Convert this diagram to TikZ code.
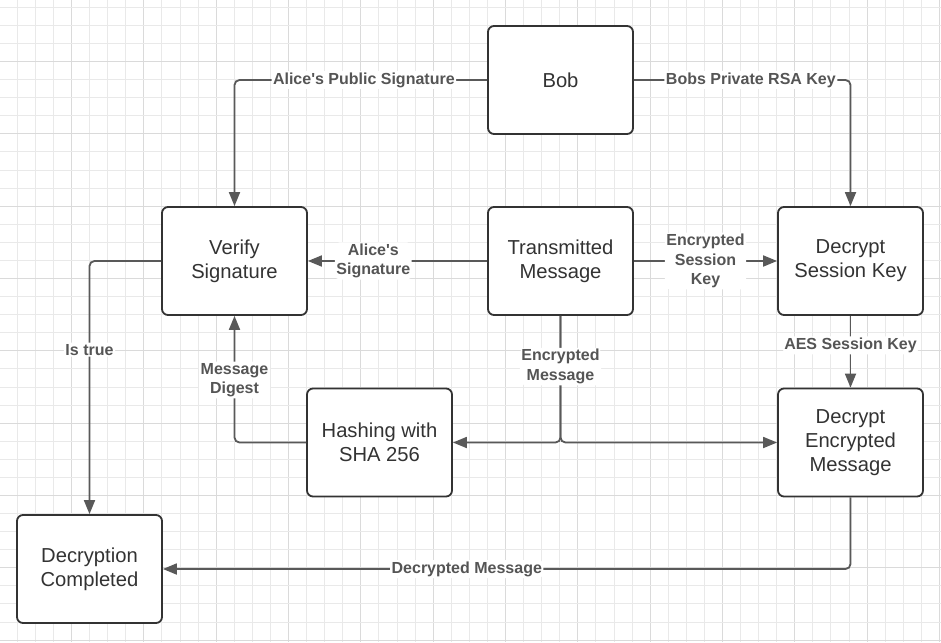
\documentclass[tikz,border=0pt]{standalone}
\usepackage{fontspec}
\setmainfont{Liberation Sans}[Ligatures=TeXOff]
\usetikzlibrary{arrows.meta}
\definecolor{boxc}{HTML}{333333}
\definecolor{linec}{HTML}{595959}
\definecolor{lblc}{HTML}{555555}
\definecolor{gridminor}{HTML}{E9E9E9}
\definecolor{gridmajor}{HTML}{DADADA}
\begin{document}
\begin{tikzpicture}[x=1pt,y=-1pt,
 box/.style={draw=boxc, line width=1.8pt, rounded corners=6pt, fill=white,
   minimum width=145pt, minimum height=108pt, align=center, text=boxc,
   font=\fontsize{20.2}{24}\selectfont, inner sep=0pt},
 lbl/.style={fill=white, text=lblc, font=\bfseries\fontsize{16}{19.5}\selectfont,
   align=center, inner sep=1.5pt},
 conn/.style={draw=linec, line width=1.8pt, rounded corners=5pt,
   -{Triangle[length=14pt,width=11pt]}},
]
\useasboundingbox (0,0) rectangle (941,642);
\fill[white] (0,0) rectangle (941,642);
% grid
\foreach \i in {0,...,52} {
  \pgfmathsetmacro{\gx}{-0.78+18.08*\i}
  \pgfmathtruncatemacro{\m}{mod(\i,4)}
  \ifnum\m=0\relax
    \draw[gridmajor, line width=1pt] (\gx,0) -- (\gx,642);
  \else
    \draw[gridminor, line width=0.9pt] (\gx,0) -- (\gx,642);
  \fi
}
\foreach \j in {0,...,35} {
  \pgfmathsetmacro{\gy}{7.3+18.08*\j}
  \pgfmathtruncatemacro{\m}{mod(\j,4)}
  \ifnum\m=3\relax
    \draw[gridmajor, line width=1pt] (0,\gy) -- (941,\gy);
  \else
    \draw[gridminor, line width=0.9pt] (0,\gy) -- (941,\gy);
  \fi
}
% boxes
\node[box] (bob) at (560.5,80) {Bob};
\node[box] (vs)  at (234.5,261) {Verify\\Signature};
\node[box] (tm)  at (560.5,261) {Transmitted\\Message};
\node[box] (dsk) at (850.5,261) {Decrypt\\Session Key};
\node[box] (hs)  at (379.5,442.5) {Hashing with\\SHA 256};
\node[box] (dem) at (850.5,442.5) {Decrypt\\Encrypted\\Message};
\node[box] (dc)  at (89.5,569) {Decryption\\Completed};
% connectors
\draw[conn] (bob.west) -| node[lbl, pos=0.244] {Alice's Public Signature} (vs.north);
\draw[conn] (bob.east) -| node[lbl, pos=0.27] {Bobs Private RSA Key} (dsk.north);
\draw[conn] (tm.west) -- node[lbl, pos=0.635] {Alice's\\Signature} (vs.east);
\draw[conn] (tm.east) -- node[lbl, pos=0.5] {Encrypted\\Session\\Key} (dsk.west);
\draw[conn] (dsk.south) -- node[lbl, pos=0.41] {AES Session Key} (dem.north);
\draw[conn] (tm.south) |- (hs.east);
\draw[conn] (tm.south) |- node[lbl, pos=0.2] {Encrypted\\Message} (dem.west);
\draw[conn] (hs.west) -| node[lbl, pos=0.747] {Message\\Digest} (vs.south);
\draw[conn] (vs.west) -| node[lbl, pos=0.675] {Is true} (dc.north);
\draw[conn] (dem.south) |- node[lbl, pos=0.779] {Decrypted Message} (dc.east);
\end{tikzpicture}
\end{document}
